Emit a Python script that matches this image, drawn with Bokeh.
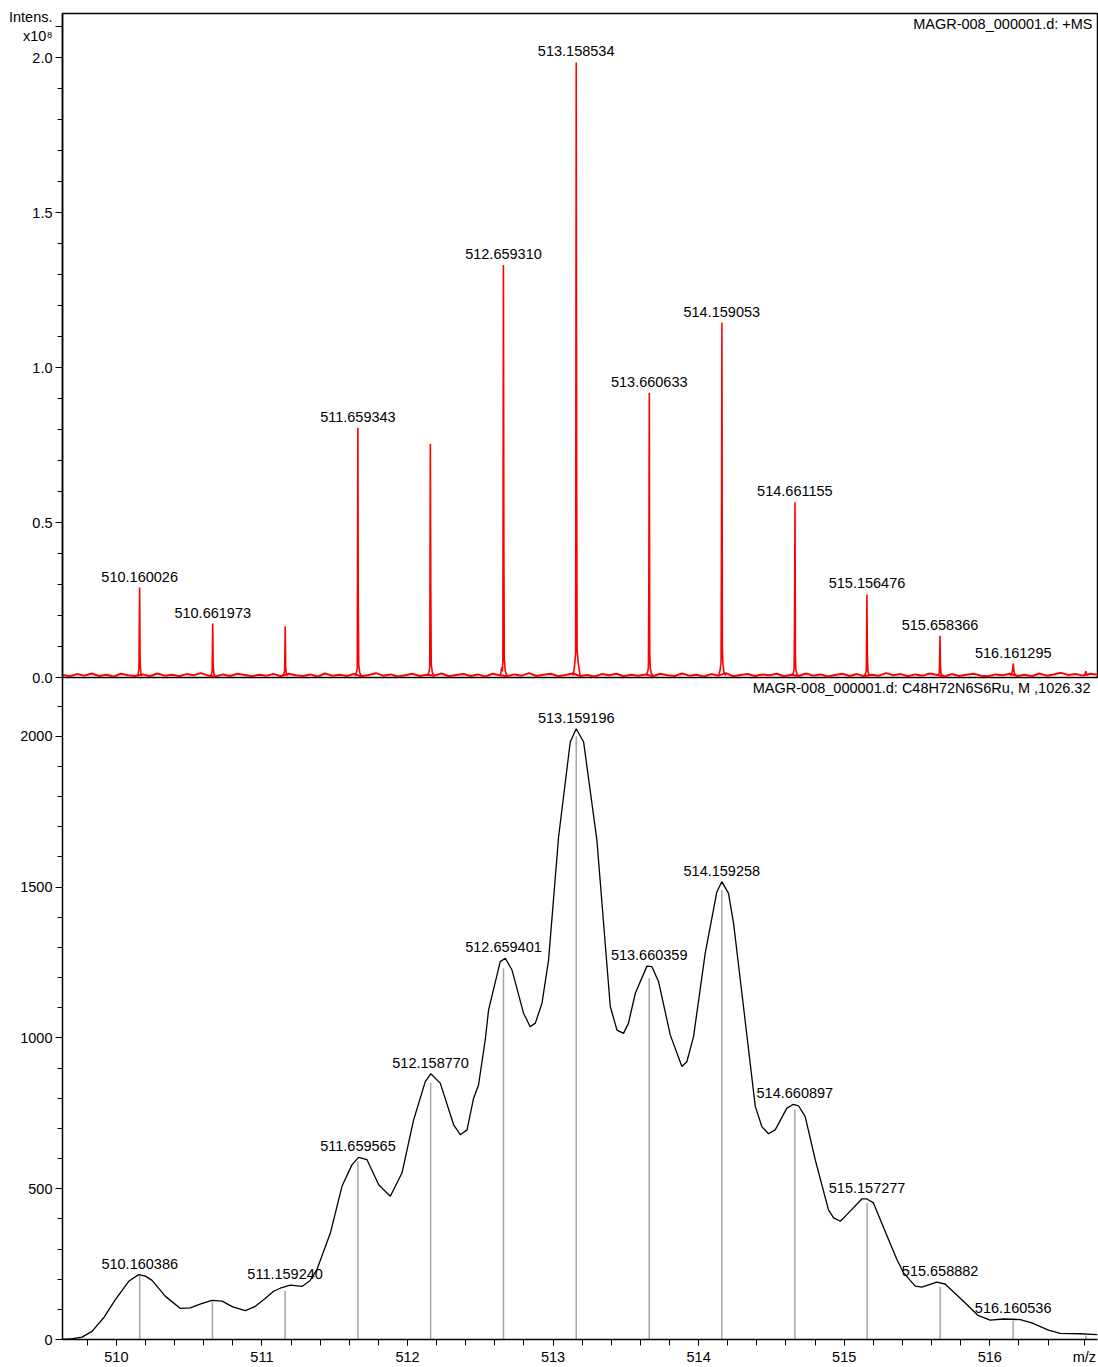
import numpy as np
from bokeh.plotting import figure
from bokeh.layouts import column
from bokeh.models import Range1d, FixedTicker, PrintfTickFormatter, Label
from bokeh.embed import file_html
from bokeh.resources import INLINE
from bokeh.core.properties import value

FONT = "Liberation Sans"
FS = "14.5px"

# ---------------- data: measured spectrum (intensity x1e8) ----------------
ms_peak_mz = [
    [510.140, 510.150, 510.155, 510.160, 510.163, 510.168, 510.178],
    [510.642, 510.652, 510.658, 510.662, 510.665, 510.670, 510.680],
    [511.140, 511.150, 511.156, 511.160, 511.163, 511.168, 511.178],
    [511.639, 511.649, 511.655, 511.659, 511.662, 511.665, 511.672, 511.684],
    [512.137, 512.147, 512.153, 512.157, 512.160, 512.163, 512.170, 512.182],
    [512.639, 512.647, 512.652, 512.655, 512.659, 512.662, 512.665, 512.672, 512.684],
    [513.136, 513.146, 513.152, 513.155, 513.159, 513.162, 513.165, 513.172, 513.186],
    [513.640, 513.650, 513.655, 513.658, 513.661, 513.664, 513.668, 513.676, 513.688],
    [514.138, 514.148, 514.154, 514.157, 514.160, 514.163, 514.166, 514.174, 514.188],
    [514.641, 514.651, 514.656, 514.659, 514.662, 514.665, 514.668, 514.676, 514.686],
    [515.136, 515.146, 515.152, 515.156, 515.159, 515.163, 515.170, 515.180],
    [515.638, 515.648, 515.654, 515.658, 515.661, 515.665, 515.672, 515.682],
    [516.141, 516.151, 516.157, 516.161, 516.164, 516.168, 516.178],
    [516.645, 516.655, 516.660, 516.664, 516.675],
]
ms_peak_int = [
    [0.006, 0.010, 0.030, 0.290, 0.060, 0.012, 0.006],
    [0.006, 0.009, 0.020, 0.174, 0.040, 0.010, 0.006],
    [0.006, 0.010, 0.022, 0.165, 0.035, 0.010, 0.006],
    [0.006, 0.015, 0.030, 0.806, 0.226, 0.040, 0.015, 0.006],
    [0.006, 0.017, 0.035, 0.754, 0.290, 0.045, 0.017, 0.006],
    [0.006, 0.033, 0.020, 0.050, 1.331, 0.420, 0.060, 0.020, 0.006],
    [0.006, 0.030, 0.060, 0.080, 1.984, 0.700, 0.090, 0.050, 0.006],
    [0.006, 0.020, 0.030, 0.320, 0.918, 0.080, 0.030, 0.012, 0.006],
    [0.006, 0.025, 0.050, 0.440, 1.144, 0.100, 0.050, 0.015, 0.006],
    [0.006, 0.015, 0.030, 0.200, 0.565, 0.060, 0.025, 0.010, 0.006],
    [0.006, 0.012, 0.020, 0.268, 0.080, 0.020, 0.010, 0.006],
    [0.006, 0.010, 0.015, 0.135, 0.040, 0.012, 0.008, 0.006],
    [0.006, 0.012, 0.025, 0.045, 0.030, 0.015, 0.006],
    [0.006, 0.012, 0.020, 0.012, 0.006],
]
ms_noise_int = [
    0.008, 0.004, 0.011, 0.006, 0.013, 0.005, 0.009, 0.003, 0.012, 0.007,
    0.005, 0.010, 0.004, 0.013, 0.006, 0.009, 0.004, 0.011, 0.007, 0.014,
    0.006, 0.003, 0.010, 0.005, 0.012, 0.008, 0.004, 0.009, 0.006, 0.011,
    0.004, 0.012, 0.007, 0.005, 0.010, 0.003, 0.013, 0.006, 0.009, 0.005,
    0.011, 0.004, 0.008, 0.014, 0.006, 0.010, 0.003, 0.007, 0.012, 0.005,
    0.009, 0.006, 0.013, 0.004, 0.008, 0.011, 0.005, 0.010, 0.003, 0.012,
    0.007, 0.004, 0.010, 0.006, 0.014, 0.005, 0.009, 0.012, 0.004, 0.008,
    0.013, 0.005, 0.008, 0.003, 0.011, 0.007, 0.012, 0.004, 0.009, 0.006,
    0.010, 0.004, 0.012, 0.007, 0.005, 0.013, 0.006, 0.009, 0.003, 0.011,
    0.006, 0.014, 0.004, 0.008, 0.011, 0.005, 0.010, 0.007, 0.012, 0.004,
    0.009, 0.005, 0.013, 0.006, 0.010, 0.003, 0.008, 0.012, 0.005, 0.011,
    0.004, 0.009, 0.006, 0.014, 0.007, 0.011, 0.004, 0.010, 0.006, 0.013,
    0.008, 0.003, 0.011, 0.005, 0.009, 0.012, 0.006, 0.004, 0.010, 0.007,
    0.012, 0.005, 0.009, 0.004, 0.013, 0.006, 0.010, 0.015, 0.008, 0.011,
    0.006, 0.012, 0.009,
]
ms_labels = ["510.160026", "510.661973", "511.659343", "512.659310", "513.158534",
             "513.660633", "514.159053", "514.661155", "515.156476", "515.658366",
             "516.161295"]
top_y_ticks = [0.0, 0.5, 1.0, 1.5, 2.0]
top_y_title = "Intens.\nx10\u2078"

# ---------------- data: simulated pattern (counts) ----------------
sim_env_mz = [
    509.627, 509.700, 509.764, 509.833, 509.913, 509.993, 510.085, 510.153, 510.200, 510.245,
    510.337, 510.440, 510.508, 510.580, 510.657, 510.726, 510.800, 510.886, 510.955, 511.020,
    511.080, 511.126, 511.195, 511.275, 511.330, 511.378, 511.470, 511.550, 511.618, 511.664,
    511.722, 511.802, 511.882, 511.962, 512.042, 512.122, 512.160, 512.225, 512.317, 512.363,
    512.409, 512.454, 512.488, 512.534, 512.557, 512.637, 512.672, 512.718, 512.797, 512.843,
    512.878, 512.924, 512.969, 513.038, 513.118, 513.159, 513.210, 513.301, 513.393, 513.439,
    513.484, 513.518, 513.565, 513.645, 513.679, 513.725, 513.805, 513.885, 513.919, 513.965,
    514.045, 514.125, 514.159, 514.205, 514.240, 514.308, 514.389, 514.434, 514.480, 514.526,
    514.606, 514.651, 514.686, 514.732, 514.801, 514.892, 514.927, 514.973, 515.018, 515.121,
    515.156, 515.201, 515.305, 515.362, 515.408, 515.488, 515.533, 515.636, 515.693, 515.819,
    515.922, 516.003, 516.094, 516.209, 516.289, 516.403, 516.484, 516.621, 516.701, 516.740,
]
sim_env_int = [
    0, 3, 8, 27, 72, 132, 193, 215, 210, 196,
    143, 103, 105, 118, 130, 127, 108, 96, 110, 135,
    160, 170, 180, 176, 195, 232, 353, 508, 579, 604,
    596, 513, 475, 552, 728, 855, 881, 850, 712, 679,
    695, 800, 844, 993, 1093, 1253, 1264, 1225, 1082, 1037,
    1049, 1115, 1258, 1667, 1981, 2025, 1981, 1656, 1104, 1026,
    1015, 1049, 1148, 1238, 1236, 1186, 1010, 905, 921, 1004,
    1280, 1484, 1518, 1479, 1380, 1104, 773, 706, 682, 695,
    767, 780, 775, 739, 596, 430, 403, 392, 414, 466,
    466, 453, 331, 265, 221, 177, 174, 190, 184, 127,
    79, 64, 68, 66, 55, 31, 20, 19, 17, 16,
]
stick_mz = [510.160386, 510.660, 511.159240, 511.659565, 512.158770, 512.659401, 513.159196,
            513.660359, 514.159258, 514.660897, 515.157277, 515.658882, 516.160536, 516.660]
stick_int = [212, 124, 162, 592, 852, 1231, 2000, 1198, 1490, 762, 453, 175, 63, 13]
sim_labels = ["510.160386", "", "511.159240", "511.659565", "512.158770", "512.659401",
              "513.159196", "513.660359", "514.159258", "514.660897", "515.157277",
              "515.658882", "516.160536", ""]
bot_y_ticks = [0, 500, 1000, 1500, 2000]
x_ticks = [510, 511, 512, 513, 514, 515, 516]
x_title = "m/z"

# ---------------- figures ----------------
X0, X1 = 509.63, 516.74
TOP_Y1 = 2.142
BOT_Y1 = 2195
OVL = 10  # px the lower canvas overlaps the upper one
xr = Range1d(X0, X1)

def style_axis(ax):
    ax.axis_line_color = "black"
    ax.axis_line_width = 1.5
    ax.major_tick_line_color = "black"
    ax.minor_tick_line_color = "black"
    ax.major_tick_line_width = 1
    ax.minor_tick_line_width = 1
    ax.major_tick_in = 0
    ax.minor_tick_in = 0
    ax.major_label_text_font = FONT
    ax.major_label_text_font_size = FS
    ax.major_label_text_color = "black"

top = figure(width=1098, height=677 + OVL, x_range=xr, y_range=Range1d(0, TOP_Y1),
             output_backend="svg", toolbar_location=None, x_axis_location=None,
             min_border_left=62, min_border_right=1, min_border_top=13, min_border_bottom=OVL)
top.grid.visible = False
top.outline_line_color = "black"
top.outline_line_width = 1.5
top.outline_line_alpha = 1.0
ya = top.yaxis[0]
TITLE_POS = 2.1
ya.ticker = FixedTicker(ticks=top_y_ticks + [TITLE_POS],
                        minor_ticks=[round(0.1 * i, 1) for i in range(21)])
ya.formatter = PrintfTickFormatter(format="%.1f")
ya.major_label_overrides = {TITLE_POS: top_y_title}
style_axis(ya)
ya.major_tick_out = 7
ya.minor_tick_out = 5
ya.major_label_standoff = 3

noise_x = np.linspace(X0, X1, len(ms_noise_int))
top.line(noise_x, ms_noise_int, line_color="#ff0000", line_width=2)
top.multi_line(ms_peak_mz, ms_peak_int, line_color="#ff0000", line_width=1.6)

# peak labels (top)
lab_x, lab_y = [], []
for t in ms_labels:
    v = float(t)
    k = int(np.argmin([abs(np.mean(m) - v) for m in ms_peak_mz]))
    lab_x.append(v)
    lab_y.append(max(ms_peak_int[k]))
top.text(lab_x, lab_y, text=ms_labels, text_font=value(FONT), text_font_size=FS,
         text_align="center", text_baseline="middle", y_offset=-11, text_color="black")

top.add_layout(Label(x=X1, y=TOP_Y1, x_offset=-5, y_offset=-10,
                     text="MAGR-008_000001.d: +MS",
                     text_align="right", text_baseline="middle", text_font=FONT,
                     text_font_size=FS, text_color="black"))

bot = figure(width=1098, height=690, x_range=xr, y_range=Range1d(0, BOT_Y1),
             output_backend="svg", toolbar_location=None, margin=(-OVL, 0, 0, 0),
             min_border_left=62, min_border_right=1, min_border_top=0, min_border_bottom=27)
bot.grid.visible = False
bot.outline_line_color = None
bot.background_fill_alpha = 0
bot.border_fill_alpha = 0
yb = bot.yaxis[0]
yb.ticker = FixedTicker(ticks=bot_y_ticks, minor_ticks=[100 * i for i in range(22)])
style_axis(yb)
yb.major_tick_out = 7
yb.minor_tick_out = 5
yb.major_label_standoff = 3
xb = bot.xaxis[0]
XT_POS = 516.65
xb.ticker = FixedTicker(ticks=x_ticks + [XT_POS],
                        minor_ticks=[round(509.8 + 0.2 * i, 1) for i in range(34)])
xb.major_label_overrides = {XT_POS: x_title}
style_axis(xb)
xb.major_tick_out = 6
xb.minor_tick_out = 6
xb.major_label_standoff = 3

bot.segment(x0=stick_mz, y0=[0] * len(stick_mz), x1=stick_mz, y1=stick_int,
            line_color="#a6a6a6", line_width=1.5)
bot.line(sim_env_mz, sim_env_int, line_color="black", line_width=1.3)

env_mz = np.array(sim_env_mz)
env_int = np.array(sim_env_int)
bl_x, bl_y, bl_t = [], [], []
for m, t in zip(stick_mz, sim_labels):
    if not t:
        continue
    sel = np.abs(env_mz - m) < 0.08
    bl_x.append(m)
    bl_y.append(float(env_int[sel].max()))
    bl_t.append(t)
bot.text(bl_x, bl_y, text=bl_t, text_font=value(FONT), text_font_size=FS,
         text_align="center", text_baseline="middle", y_offset=-11, text_color="black")

bot.add_layout(Label(x=X1, y=BOT_Y1, x_offset=-7, y_offset=-10,
                     text="MAGR-008_000001.d: C48H72N6S6Ru, M ,1026.32",
                     text_align="right", text_baseline="middle", text_font=FONT,
                     text_font_size=FS, text_color="black"))

layout = column(top, bot, spacing=0)
open("out.html", "w").write(file_html(layout, INLINE))
